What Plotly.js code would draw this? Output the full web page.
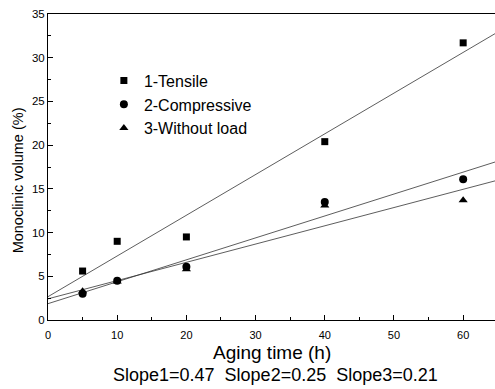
<!DOCTYPE html>
<html>
<head>
<meta charset="utf-8">
<script src="https://cdn.plot.ly/plotly-3.0.1.min.js"></script>
<style>html,body{margin:0;padding:0;background:#fff;}#chart{width:495px;height:389px;}</style>
</head>
<body>
<div id="chart"></div>
<script>
const agingTime = [5, 10, 20, 40, 60];
const tensile = [5.6, 9.0, 9.5, 20.4, 31.7];
const compressive = [3.0, 4.5, 6.1, 13.5, 16.1];
const withoutLoad = [3.3, 4.4, 5.8, 13.1, 13.7];
const seriesNames = ['1-Tensile', '2-Compressive', '3-Without load'];
const xTitle = 'Aging time (h)';
const yTitle = 'Monoclinic volume (%)';
const slopeText = 'Slope1=0.47  Slope2=0.25  Slope3=0.21';

function fit(xs, ys) {
  const n = xs.length;
  const mx = xs.reduce((a, b) => a + b, 0) / n;
  const my = ys.reduce((a, b) => a + b, 0) / n;
  let sxy = 0, sxx = 0;
  for (let i = 0; i < n; i++) { sxy += (xs[i] - mx) * (ys[i] - my); sxx += (xs[i] - mx) ** 2; }
  const m = sxy / sxx;
  return { m: m, b: my - m * mx };
}

const series = [tensile, compressive, withoutLoad];
const symbols = ['square', 'circle', 'triangle-up'];
const sizes = [7, 8, 8];
const traces = [];
const xr = [0, 66];
series.forEach((ys, i) => {
  const f = fit(agingTime, ys);
  traces.push({
    x: xr, y: xr.map(x => f.m * x + f.b), mode: 'lines',
    line: { color: '#333', width: 0.8 }, showlegend: false, hoverinfo: 'skip'
  });
});
series.forEach((ys, i) => {
  traces.push({
    x: agingTime, y: ys, mode: 'markers', name: seriesNames[i],
    legendgroup: 'g' + i,
    marker: { symbol: symbols[i], size: sizes[i], color: '#000' }
  });
});

const layout = {
  width: 495, height: 389,
  margin: { l: 48, r: 0, t: 14, b: 69 },
  paper_bgcolor: '#fff', plot_bgcolor: '#fff',
  font: { family: 'Liberation Sans, Arial, sans-serif', color: '#000' },
  showlegend: true,
  legend: {
    x: 0.125, y: 0.838, xanchor: 'left', yanchor: 'top',
    font: { size: 16 }, bgcolor: 'rgba(0,0,0,0)',
    traceorder: 'grouped', tracegroupgap: 0, itemwidth: 30
  },
  xaxis: {
    range: [0, 64.6], tickvals: [0, 10, 20, 30, 40, 50, 60],
    ticks: 'inside', ticklen: 5, tickwidth: 1, tickcolor: '#000',
    minor: { dtick: 5, ticks: 'inside', ticklen: 3, tickcolor: '#000' },
    showgrid: false, zeroline: false, showline: true, linecolor: '#000', linewidth: 1,
    mirror: true, tickfont: { size: 11 }, ticklabelstandoff: 5
  },
  yaxis: {
    range: [0, 35], dtick: 5,
    ticks: 'inside', ticklen: 5, tickwidth: 1, tickcolor: '#000',
    minor: { dtick: 2.5, ticks: 'inside', ticklen: 3, tickcolor: '#000' },
    showgrid: false, zeroline: false, showline: true, linecolor: '#000', linewidth: 1,
    mirror: true, tickfont: { size: 11.5 }
  },
  annotations: [
    { text: xTitle, xref: 'paper', yref: 'paper', x: 0.501, y: -0.105,
      xanchor: 'center', yanchor: 'middle', showarrow: false, font: { size: 19 } },
    { text: yTitle, xref: 'paper', yref: 'paper', x: -0.068, y: 0.455, textangle: -90,
      xanchor: 'center', yanchor: 'middle', showarrow: false, font: { size: 14.5 } },
    { text: slopeText, xref: 'paper', yref: 'paper', x: 0.51, y: -0.142,
      xanchor: 'center', yanchor: 'top', showarrow: false, font: { size: 18 } }
  ]
};
Plotly.newPlot('chart', traces, layout, { displayModeBar: false, staticPlot: true });
</script>
</body>
</html>
